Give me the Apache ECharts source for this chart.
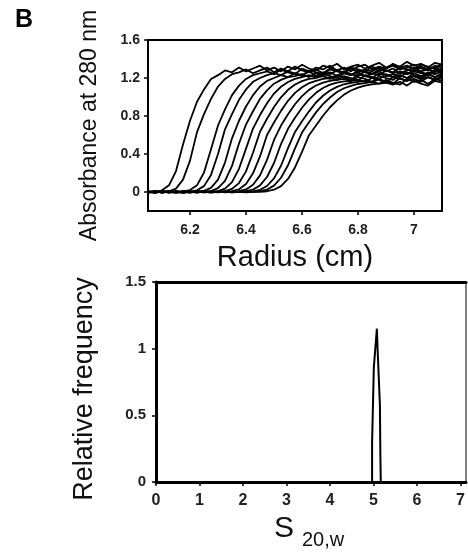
<!DOCTYPE html>
<html><head><meta charset="utf-8">
<script src="https://cdn.jsdelivr.net/npm/echarts@6/dist/echarts.min.js"></script>
<style>html,body{margin:0;padding:0;background:#fff}#c{width:468px;height:552px}</style>
</head><body><div id="c"></div>
<script>
// ---- Panel B top: absorbance scans vs radius ----
const radius = [6.05,6.075,6.1,6.125,6.15,6.175,6.2,6.225,6.25,6.275,6.3,6.325,6.35,6.375,6.4,6.425,6.45,6.475,6.5,6.525,6.55,6.575,6.6,6.625,6.65,6.675,6.7,6.725,6.75,6.775,6.8,6.825,6.85,6.875,6.9,6.925,6.95,6.975,7,7.025,7.05,7.075,7.1];
const scan01 = [0.004,-0.006,0.018,0.07,0.22,0.50,0.75,0.95,1.08,1.19,1.23,1.28,1.26,1.31,1.27,1.30,1.33,1.28,1.31,1.27,1.32,1.29,1.34,1.30,1.28,1.33,1.31,1.35,1.29,1.32,1.34,1.30,1.33,1.36,1.31,1.34,1.32,1.37,1.33,1.35,1.31,1.36,1.34];
const scan02 = [-0.005,0.006,-0.003,0.008,0.036,0.13,0.33,0.63,0.82,0.98,1.11,1.19,1.24,1.26,1.29,1.25,1.28,1.31,1.26,1.30,1.27,1.32,1.28,1.26,1.31,1.29,1.33,1.28,1.31,1.27,1.32,1.34,1.29,1.32,1.30,1.35,1.31,1.33,1.29,1.34,1.32,1.30,1.35];
const scan03 = [0.007,-0.004,0.005,-0.007,0.003,0.006,0.02,0.07,0.205,0.45,0.70,0.87,1.02,1.12,1.19,1.23,1.25,1.27,1.24,1.29,1.26,1.24,1.30,1.27,1.29,1.25,1.30,1.28,1.26,1.31,1.29,1.27,1.32,1.28,1.30,1.33,1.29,1.31,1.34,1.30,1.28,1.33,1.31];
const scan04 = [-0.003,0.008,-0.006,0.004,-0.002,0.007,0.004,0.018,0.062,0.18,0.40,0.66,0.82,0.97,1.08,1.16,1.20,1.23,1.25,1.23,1.27,1.25,1.22,1.28,1.26,1.24,1.29,1.27,1.25,1.30,1.26,1.29,1.27,1.31,1.28,1.26,1.31,1.29,1.27,1.32,1.29,1.31,1.28];
const scan05 = [0.005,-0.007,0.003,0.009,-0.004,0.002,-0.005,0.006,0.012,0.043,0.13,0.31,0.565,0.75,0.90,1.02,1.11,1.17,1.20,1.23,1.21,1.25,1.23,1.27,1.22,1.26,1.24,1.28,1.25,1.23,1.28,1.26,1.24,1.29,1.27,1.30,1.25,1.28,1.31,1.27,1.29,1.26,1.30];
const scan06 = [-0.006,0.004,0.008,-0.003,0.006,-0.008,0.003,0.005,0.002,0.01,0.04,0.117,0.275,0.51,0.71,0.85,0.98,1.07,1.14,1.18,1.21,1.22,1.24,1.21,1.25,1.23,1.26,1.22,1.27,1.24,1.22,1.27,1.25,1.23,1.28,1.25,1.27,1.24,1.29,1.26,1.24,1.29,1.27];
const scan07 = [0.003,0.006,-0.005,0.002,-0.006,0.008,-0.002,0.004,-0.003,0.002,0.01,0.036,0.104,0.244,0.457,0.668,0.81,0.935,1.036,1.108,1.158,1.19,1.21,1.23,1.21,1.24,1.22,1.20,1.25,1.23,1.26,1.22,1.24,1.27,1.23,1.21,1.26,1.24,1.27,1.25,1.23,1.28,1.25];
const scan08 = [-0.004,0.002,0.007,-0.005,0.004,-0.002,0.006,-0.007,0.003,0.001,0.002,0.009,0.033,0.094,0.217,0.413,0.634,0.771,0.894,0.997,1.076,1.131,1.167,1.19,1.20,1.22,1.19,1.23,1.21,1.18,1.24,1.22,1.20,1.25,1.22,1.24,1.21,1.26,1.23,1.21,1.26,1.24,1.27];
const scan09 = [0.006,-0.003,0.004,0.007,-0.005,0.003,-0.004,0.005,0.002,-0.006,0.001,0.002,0.008,0.029,0.084,0.197,0.374,0.60,0.732,0.854,0.96,1.043,1.103,1.145,1.17,1.19,1.20,1.18,1.22,1.20,1.17,1.23,1.21,1.19,1.24,1.21,1.23,1.20,1.25,1.22,1.24,1.21,1.25];
const scan10 = [-0.002,0.005,-0.007,0.003,0.006,-0.004,0.002,-0.003,0.007,0.001,-0.004,0.003,0.002,0.008,0.027,0.076,0.175,0.338,0.548,0.699,0.818,0.924,1.01,1.075,1.121,1.151,1.17,1.18,1.19,1.17,1.21,1.19,1.16,1.22,1.20,1.18,1.23,1.20,1.22,1.19,1.24,1.21,1.23];
const scan11 = [0.004,-0.005,0.002,-0.003,0.007,0.001,-0.006,0.004,-0.002,0.005,0.003,-0.004,0.001,0.002,0.008,0.025,0.069,0.158,0.305,0.505,0.665,0.781,0.887,0.975,1.044,1.095,1.13,1.152,1.165,1.17,1.18,1.16,1.20,1.18,1.15,1.21,1.19,1.17,1.22,1.19,1.21,1.18,1.22];
const scan12 = [-0.005,0.003,0.006,-0.002,-0.006,0.004,0.002,-0.005,0.006,-0.002,0.004,0.001,-0.003,0.002,0.003,0.007,0.023,0.063,0.144,0.276,0.461,0.632,0.745,0.849,0.942,1.013,1.068,1.107,1.134,1.15,1.16,1.17,1.15,1.19,1.16,1.14,1.20,1.17,1.19,1.16,1.21,1.18,1.20];
const scan13 = [0.002,0.006,-0.004,0.005,-0.003,-0.006,0.004,0.003,-0.005,0.006,-0.001,0.004,-0.002,0.003,0.001,0.002,0.009,0.026,0.067,0.15,0.281,0.46,0.626,0.735,0.838,0.925,0.995,1.052,1.092,1.118,1.137,1.147,1.16,1.14,1.18,1.15,1.13,1.19,1.16,1.18,1.14,1.19,1.17];
const scan14 = [-0.003,-0.006,0.005,0.003,0.006,-0.004,-0.002,0.007,0.001,-0.005,0.003,0.006,-0.004,0.002,-0.003,0.001,0.002,0.008,0.024,0.062,0.137,0.258,0.422,0.598,0.70,0.803,0.892,0.965,1.025,1.068,1.098,1.12,1.133,1.141,1.15,1.13,1.16,1.12,1.17,1.14,1.12,1.17,1.15];
const scans = [scan01,scan02,scan03,scan04,scan05,scan06,scan07,scan08,scan09,scan10,scan11,scan12,scan13,scan14];
const absTicks = [0,0.4,0.8,1.2,1.6];
const radiusTicks = [6.2,6.4,6.6,6.8,7];

// ---- Panel B bottom: c(s) distribution ----
const sValues = [0,4.97,4.97,5.01,5.08,5.10,5.15,5.16,5.17,7.13];
const relFreq = [0,0,0.29,0.86,1.15,0.97,0.575,0.215,0,0];
const freqTicks = [0,0.5,1,1.5];
const sTicks = [0,1,2,3,4,5,6,7];

const FONT = 'Arial, "Liberation Sans", sans-serif';
const lbl = (vals, size, margin) => ({customValues: vals, fontFamily: FONT, fontWeight: 'bold', fontSize: size, color: '#222', margin: margin});
const tck = (vals, w) => ({show: true, customValues: vals, inside: false, length: 4, lineStyle: {color: '#000', width: w}});

const chart = echarts.init(document.getElementById('c'), null, {renderer: 'canvas'});
const series = scans.map((ys) => ({
  type: 'line', xAxisIndex: 0, yAxisIndex: 0, showSymbol: false, symbol: 'none',
  data: radius.map((r, i) => [r, ys[i]]),
  lineStyle: {color: '#000', width: 1.8}, silent: true, animation: false, z: 3
}));
series.push({
  type: 'line', xAxisIndex: 1, yAxisIndex: 1, symbol: 'none',
  data: sValues.map((s, i) => [s, relFreq[i]]),
  lineStyle: {color: '#000', width: 2}, animation: false, z: 3
});

chart.setOption({
  backgroundColor: '#fff',
  animation: false,
  textStyle: {fontFamily: FONT},
  grid: [
    {left: 148, top: 40, width: 294, height: 171, show: true, borderColor: '#000', borderWidth: 2, backgroundColor: 'transparent'},
    {left: 156, top: 282, width: 310, height: 200, show: true, borderColor: '#000', borderWidth: 1, backgroundColor: 'transparent'}
  ],
  xAxis: [
    {gridIndex: 0, type: 'value', min: 6.05, max: 7.1,
     axisLine: {show: true, onZero: false, lineStyle: {color: '#000', width: 2}},
     axisTick: tck(radiusTicks, 1.5), axisLabel: lbl(radiusTicks, 14, 12), splitLine: {show: false},
     name: 'Radius (cm)', nameLocation: 'middle', nameGap: 32,
     nameTextStyle: {fontFamily: FONT, fontSize: 29, color: '#111'}},
    {gridIndex: 1, type: 'value', min: 0, max: 7.13,
     axisLine: {show: true, onZero: false, lineStyle: {color: '#000', width: 3}},
     axisTick: tck(sTicks, 1.5), axisLabel: lbl(sTicks, 16, 11), splitLine: {show: false}},
    {gridIndex: 1, type: 'value', position: 'top', min: 0, max: 7.13,
     axisLine: {show: true, onZero: false, lineStyle: {color: '#000', width: 3}},
     axisTick: {show: false}, axisLabel: {show: false}, splitLine: {show: false}}
  ],
  yAxis: [
    {gridIndex: 0, type: 'value', min: -0.2, max: 1.6,
     axisLine: {show: true, onZero: false, lineStyle: {color: '#000', width: 2}},
     axisTick: tck(absTicks, 1.5), axisLabel: lbl(absTicks, 14, 8), splitLine: {show: false},
     name: 'Absorbance at 280 nm', nameLocation: 'middle', nameRotate: 90, nameGap: 47,
     nameTextStyle: {fontFamily: FONT, fontSize: 23, color: '#111'}},
    {gridIndex: 1, type: 'value', min: 0, max: 1.5,
     axisLine: {show: true, onZero: false, lineStyle: {color: '#000', width: 3}},
     axisTick: tck(freqTicks, 1.5), axisLabel: lbl(freqTicks, 15, 10), splitLine: {show: false},
     name: 'Relative frequency', nameLocation: 'middle', nameRotate: 90, nameGap: 58,
     nameTextStyle: {fontFamily: FONT, fontSize: 27, color: '#111', padding: [0, 14, 0, 0]}}
  ],
  graphic: [
    {type: 'text', left: 15, top: 8, style: {text: 'B', fontFamily: FONT, fontWeight: 'bold', fontSize: 25, fill: '#000'}},
    {type: 'text', x: 274, y: 529, style: {text: 'S', fontFamily: FONT, fontSize: 30, fill: '#111', align: 'left', verticalAlign: 'middle'}},
    {type: 'text', x: 302, y: 540, style: {text: '20,w', fontFamily: FONT, fontSize: 20, fill: '#111', align: 'left', verticalAlign: 'middle'}}
  ],
  series: series
});
</script></body></html>
